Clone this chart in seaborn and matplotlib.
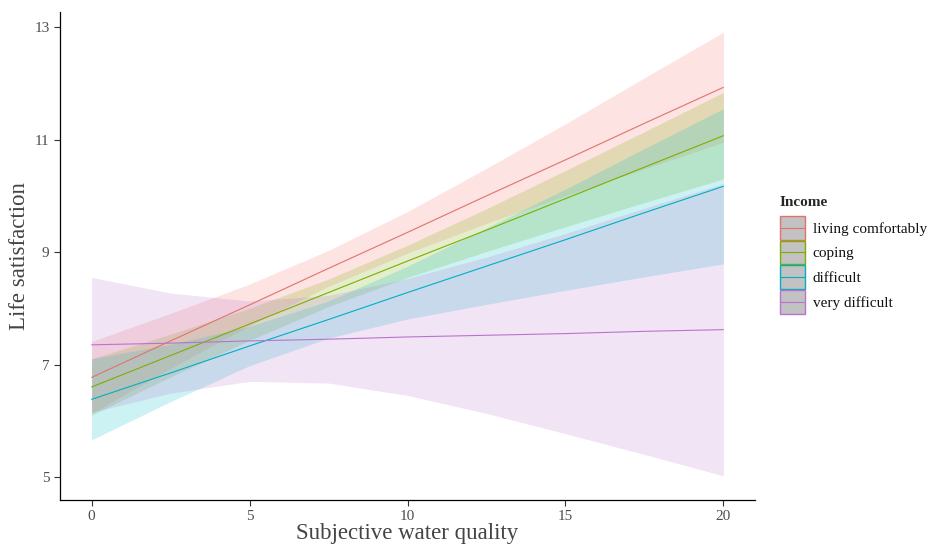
import numpy as np
import pandas as pd
import matplotlib
matplotlib.use("Agg")
import matplotlib.pyplot as plt
import seaborn as sns
from matplotlib.patches import Rectangle
from matplotlib.lines import Line2D

# ---- data ----
x_vals = [0, 2.5, 5, 7.5, 10, 12.5, 15, 17.5, 20]
groups = ["living comfortably", "coping", "difficult", "very difficult"]
fill_colors = ["#F8766D", "#7CAE00", "#00BFC4", "#B978D0"]
line_colors = ["#E0736D", "#7CAE00", "#00AFC0", "#B873D0"]

fit_comfortable = [6.77, 7.42, 8.06, 8.71, 9.35, 10.00, 10.64, 11.29, 11.93]
low_comfortable = [6.13, 6.93, 7.69, 8.39, 8.98, 9.51, 10.00, 10.48, 10.95]
up_comfortable = [7.41, 7.91, 8.43, 9.03, 9.72, 10.49, 11.28, 12.10, 12.91]

fit_coping = [6.60, 7.16, 7.72, 8.28, 8.84, 9.39, 9.95, 10.51, 11.07]
low_coping = [6.10, 6.78, 7.43, 8.03, 8.55, 9.01, 9.45, 9.88, 10.30]
up_coping = [7.10, 7.54, 8.00, 8.52, 9.12, 9.77, 10.45, 11.14, 11.84]

fit_difficult = [6.38, 6.85, 7.33, 7.80, 8.28, 8.75, 9.22, 9.70, 10.17]
low_difficult = [5.66, 6.34, 6.98, 7.47, 7.81, 8.07, 8.32, 8.56, 8.79]
up_difficult = [7.10, 7.36, 7.68, 8.13, 8.75, 9.43, 10.12, 10.84, 11.55]

fit_verydiff = [7.35, 7.38, 7.42, 7.45, 7.49, 7.52, 7.55, 7.59, 7.62]
low_verydiff = [6.15, 6.49, 6.70, 6.67, 6.45, 6.13, 5.77, 5.40, 5.02]
up_verydiff = [8.55, 8.27, 8.13, 8.23, 8.53, 8.91, 9.33, 9.78, 10.22]

x_ticks = [0, 5, 10, 15, 20]
y_ticks = [5, 7, 9, 11, 13]

fits = [fit_comfortable, fit_coping, fit_difficult, fit_verydiff]
lows = [low_comfortable, low_coping, low_difficult, low_verydiff]
ups = [up_comfortable, up_coping, up_difficult, up_verydiff]

rows = []
for g, f, lo, hi in zip(groups, fits, lows, ups):
    for xv, fv, lv, hv in zip(x_vals, f, lo, hi):
        rows.append({"x": xv, "fit": fv, "low": lv, "high": hv, "Income": g})
df = pd.DataFrame(rows)

# ---- style ----
sns.set_style("ticks")
plt.rcParams["font.family"] = ["Liberation Serif", "DejaVu Serif"]

fig = plt.figure(figsize=(9.3, 5.49), dpi=100)
ax = fig.add_axes([60 / 930, 1 - 500 / 549, 695 / 930, 488 / 549])

fill_pal = dict(zip(groups, fill_colors))
line_pal = dict(zip(groups, line_colors))
for g in groups:
    sub = df[df["Income"] == g]
    ax.fill_between(sub["x"], sub["low"], sub["high"], color=fill_pal[g],
                    alpha=0.2, linewidth=0)

sns.lineplot(data=df, x="x", y="fit", hue="Income", hue_order=groups,
             palette=line_pal, linewidth=0.8, legend=False, ax=ax,
             errorbar=None)

ax.set_xlim(-1, 21)
ax.set_ylim(4.59, 13.27)
ax.set_xticks(x_ticks)
ax.set_yticks(y_ticks)
ax.tick_params(axis="both", labelsize=11, labelcolor="#4D4D4D",
               color="#333333", length=4, width=0.8)
for s in ["top", "right"]:
    ax.spines[s].set_visible(False)
for s in ["left", "bottom"]:
    ax.spines[s].set_color("black")
    ax.spines[s].set_linewidth(0.9)

ax.set_xlabel("Subjective water quality", fontsize=16.5, color="#444444", labelpad=0)
ax.set_ylabel("Life satisfaction", fontsize=16.5, color="#444444", labelpad=3)


class KeyHandle:
    def __init__(self, color):
        self.color = color


class KeyHandler:
    def legend_artist(self, legend, orig_handle, fontsize, handlebox):
        x0, y0 = -handlebox.xdescent, -handlebox.ydescent
        w, h = handlebox.width, handlebox.height
        rect = Rectangle((x0, y0), w, h, facecolor="#c2c2c2",
                         edgecolor=orig_handle.color, linewidth=1.0,
                         transform=handlebox.get_transform())
        line = Line2D([x0, x0 + w], [y0 + h / 2, y0 + h / 2],
                      color=orig_handle.color, linewidth=0.8,
                      transform=handlebox.get_transform())
        handlebox.add_artist(rect)
        handlebox.add_artist(line)
        return rect


handles = [KeyHandle(c) for c in line_colors]
leg = fig.legend(handles, groups, loc="upper left",
                 bbox_to_anchor=(780 / 930, 1 - 196 / 549),
                 handler_map={KeyHandle: KeyHandler()},
                 frameon=False, fontsize=11, title="Income",
                 title_fontproperties={"weight": "bold", "size": 11},
                 handlelength=1.63, handleheight=2.0, labelspacing=0.07,
                 handletextpad=0.5, borderpad=0, borderaxespad=0,
                 alignment="left")
leg._legend_box.sep = 5
for t in leg.get_texts():
    t.set_color("#111111")

fig.savefig("out.png", dpi=100)
